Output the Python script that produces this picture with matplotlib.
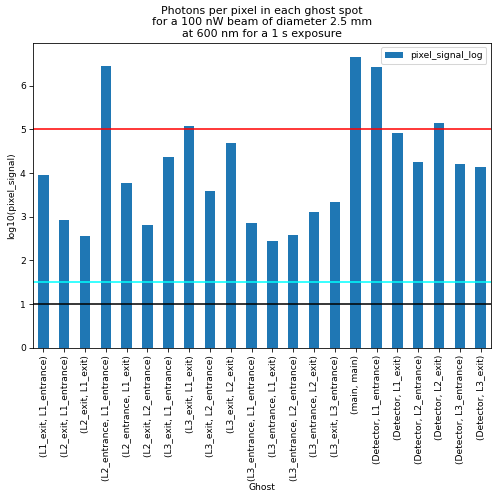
import matplotlib
matplotlib.use("Agg")
import matplotlib.pyplot as plt
import numpy as np

ghosts = [
    "(L1_exit, L1_entrance)", "(L2_exit, L1_entrance)", "(L2_exit, L1_exit)",
    "(L2_entrance, L1_entrance)", "(L2_entrance, L1_exit)", "(L2_exit, L2_entrance)",
    "(L3_exit, L1_entrance)", "(L3_exit, L1_exit)", "(L3_exit, L2_entrance)",
    "(L3_exit, L2_exit)", "(L3_entrance, L1_entrance)", "(L3_entrance, L1_exit)",
    "(L3_entrance, L2_entrance)", "(L3_entrance, L2_exit)", "(L3_exit, L3_entrance)",
    "(main, main)", "(Detector, L1_entrance)", "(Detector, L1_exit)",
    "(Detector, L2_entrance)", "(Detector, L2_exit)", "(Detector, L3_entrance)",
    "(Detector, L3_exit)",
]
pixel_signal_log = [
    3.96, 2.92, 2.55, 6.46, 3.78, 2.81, 4.36, 5.08, 3.58, 4.68, 2.86,
    2.44, 2.58, 3.10, 3.34, 6.65, 6.43, 4.91, 4.25, 5.14, 4.20, 4.14,
]

plt.rcParams["font.size"] = 9

fig = plt.figure(figsize=(6.74, 6.74), dpi=73)
ax = fig.add_axes([0.067, 0.293, 0.931, 0.62])

x = np.arange(len(ghosts))
ax.bar(x, pixel_signal_log, width=0.5, color="#1f77b4", label="pixel_signal_log")
ax.set_xlim(-0.5, len(ghosts) - 0.5)
ax.set_xticks(x)
ax.set_xticklabels(ghosts, rotation=90)

ax.axhline(5, color="red")
ax.axhline(1.5, color="cyan")
ax.axhline(1, color="black")

ax.set_xlabel("Ghost", labelpad=2)
ax.set_ylabel("log10(pixel_signal)")
ax.set_title("Photons per pixel in each ghost spot\n"
             "for a 100 nW beam of diameter 2.5 mm\n"
             "at 600 nm for a 1 s exposure")
ax.legend(loc="upper right")

fig.savefig("out.png", dpi=73)
